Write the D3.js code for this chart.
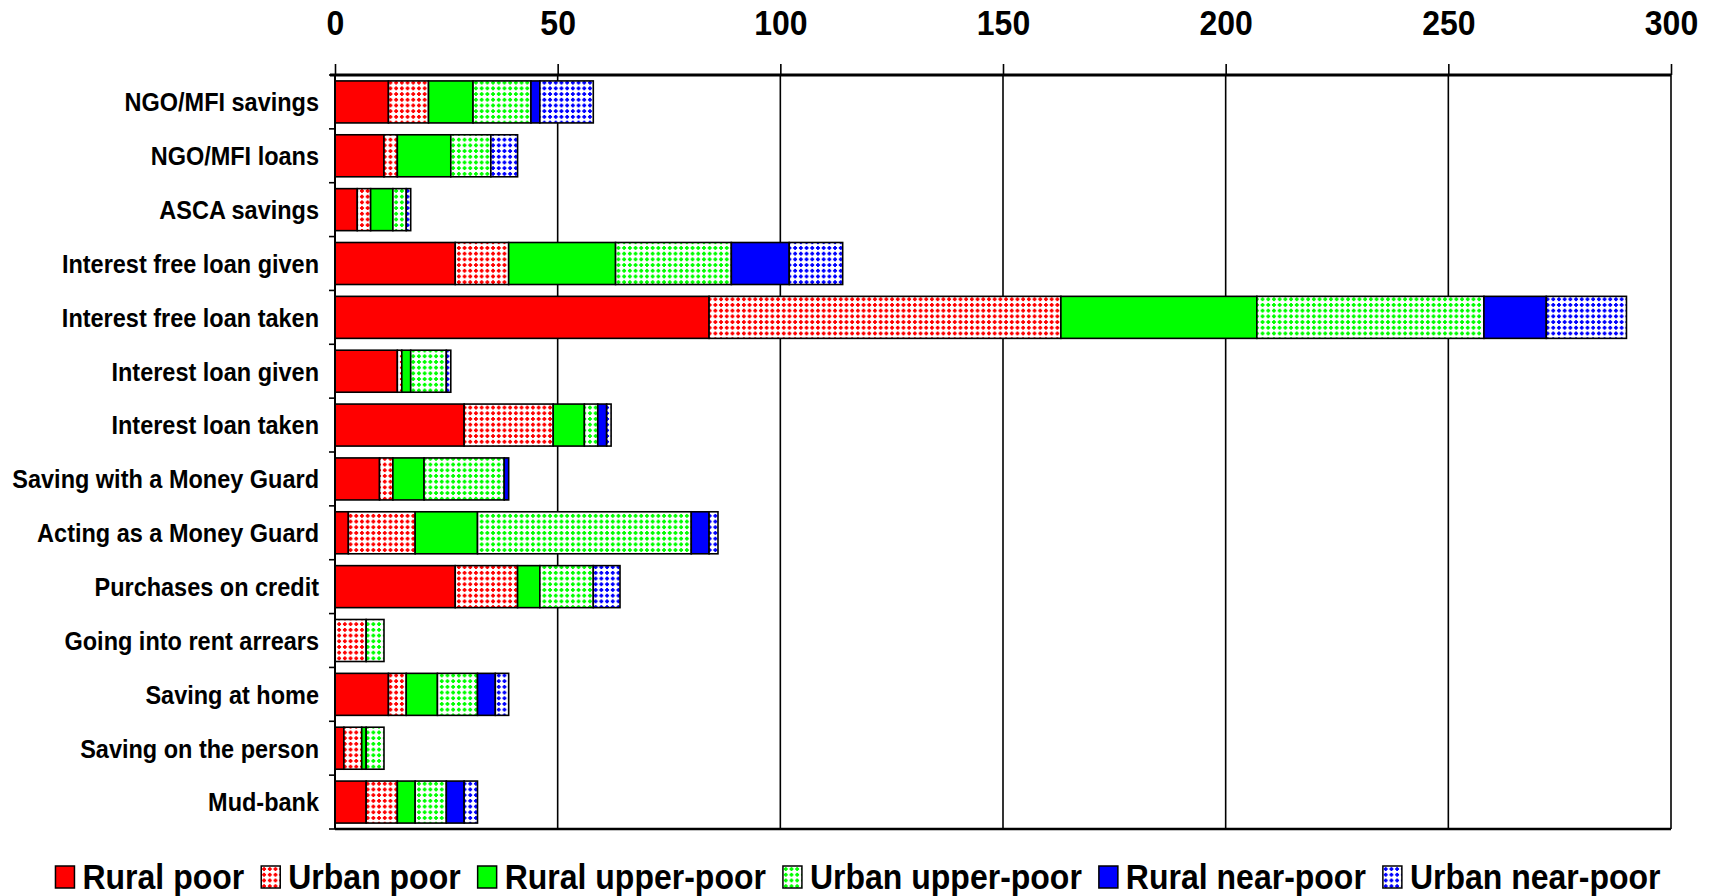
<!DOCTYPE html>
<html>
<head>
<meta charset="utf-8">
<script src="https://cdn.jsdelivr.net/npm/d3@7"></script>
<style>
  body { margin: 0; background: #fff; }
  text { font-family: "Liberation Sans", Arial, sans-serif; font-weight: bold; fill: #000; }
</style>
</head>
<body>
<script>
// categories top to bottom
var categories = ["NGO/MFI savings", "NGO/MFI loans", "ASCA savings", "Interest free loan given",
  "Interest free loan taken", "Interest loan given", "Interest loan taken", "Saving with a Money Guard",
  "Acting as a Money Guard", "Purchases on credit", "Going into rent arrears", "Saving at home",
  "Saving on the person", "Mud-bank"];

var seriesNames = ["Rural poor", "Urban poor", "Rural upper-poor", "Urban upper-poor", "Rural near-poor", "Urban near-poor"];

var ruralPoor  = [12, 11, 5, 27, 84, 14, 29, 10, 3, 27, 0, 12, 2, 7];
var urbanPoor  = [9, 3, 3, 12, 79, 1, 20, 3, 15, 14, 7, 4, 4, 7];
var ruralUpper = [10, 12, 5, 24, 44, 2, 7, 7, 14, 5, 0, 7, 1, 4];
var urbanUpper = [13, 9, 3, 26, 51, 8, 3, 18, 48, 12, 4, 9, 4, 7];
var ruralNear  = [2, 0, 0, 13, 14, 0, 2, 1, 4, 0, 0, 4, 0, 4];
var urbanNear  = [12, 6, 1, 12, 18, 1, 1, 0, 2, 6, 0, 3, 0, 3];

var xTicks = [0, 50, 100, 150, 200, 250, 300];

var seriesValues = [ruralPoor, urbanPoor, ruralUpper, urbanUpper, ruralNear, urbanNear];
var baseColors = ["#ff0000", "#ff0000", "#00ff00", "#00ff00", "#0000ff", "#0000ff"];
var dotted = [false, true, false, true, false, true];

var w = 1717, h = 896;
var svg = d3.select("body").append("svg").attr("width", w).attr("height", h);

// dotted fill patterns for the urban series (small plus-shaped dots)
var defs = svg.append("defs");
seriesNames.forEach(function(name, i) {
  if(!dotted[i]) return;
  var p = defs.append("pattern").attr("id", "pat" + i)
    .attr("patternUnits", "userSpaceOnUse").attr("width", 5.7).attr("height", 5.7);
  p.append("rect").attr("width", 5.7).attr("height", 5.7).attr("fill", "#fff");
  p.append("path").attr("d", "M1.9,0.9h1.9v1h1v1.9h-1v1h-1.9v-1h-1v-1.9h1z").attr("fill", baseColors[i]);
});
function fillOf(i) { return dotted[i] ? "url(#pat" + i + ")" : baseColors[i]; }

var x = d3.scaleLinear().domain([0, 300]).range([335, 1671]);
var y = d3.scaleBand().domain(categories).range([75, 829]).paddingInner(0.22).paddingOuter(0.11);

// table for d3.stack
var table = categories.map(function(c, j) {
  var row = { cat: c };
  seriesNames.forEach(function(s, i) { row[s] = seriesValues[i][j]; });
  return row;
});
var stacked = d3.stack().keys(seriesNames)(table);

// vertical grid lines
svg.append("g").selectAll("line").data(xTicks.slice(1)).enter().append("line")
  .attr("x1", d => x(d)).attr("x2", d => x(d))
  .attr("y1", 75).attr("y2", 829)
  .attr("stroke", "#000").attr("stroke-width", 1.6);

// bottom frame line
svg.append("line").attr("x1", 335).attr("x2", 1671).attr("y1", 829).attr("y2", 829)
  .attr("stroke", "#000").attr("stroke-width", 2.5);

// bars
stacked.forEach(function(layer, i) {
  svg.append("g").selectAll("rect").data(layer).enter().append("rect")
    .filter(d => d[1] - d[0] > 0)
    .attr("x", d => x(d[0]))
    .attr("y", d => y(d.data.cat))
    .attr("width", d => x(d[1]) - x(d[0]))
    .attr("height", y.bandwidth())
    .attr("fill", fillOf(i))
    .attr("stroke", "#000")
    .attr("stroke-width", 1.6);
});

// top axis
var xAxis = d3.axisTop(x).tickValues(xTicks).tickSize(11).tickPadding(26);
var gx = svg.append("g").attr("transform", "translate(0,75)").call(xAxis);
gx.select(".domain").attr("stroke-width", 3).attr("d", "M330,0H1671");
gx.selectAll(".tick line").attr("stroke-width", 1.6);
gx.selectAll("text").attr("font-size", 32).style("font-family", "Liberation Sans, Arial, sans-serif")
  .style("font-weight", "bold").attr("fill", "#000")
  .attr("y", 0).attr("transform", "translate(0,-40) scale(1,1.1)");

// left axis with ticks between categories
svg.append("line").attr("x1", 335).attr("x2", 335).attr("y1", 75).attr("y2", 829)
  .attr("stroke", "#000").attr("stroke-width", 2);
var bounds = d3.range(categories.length + 1).map(i => 75 + i * (754 / categories.length));
svg.append("g").selectAll("line").data(bounds).enter().append("line")
  .attr("x1", 329).attr("x2", 335).attr("y1", d => d).attr("y2", d => d)
  .attr("stroke", "#000").attr("stroke-width", 1.6);

svg.append("g").selectAll("text").data(categories).enter().append("text")
  .attr("transform", d => "translate(319," + (y(d) + y.bandwidth() / 2) + ") scale(1,1.1)")
  .attr("dy", "0.36em")
  .attr("text-anchor", "end")
  .attr("font-size", 23.5)
  .text(d => d);

// legend
var legend = svg.append("g");
var items = legend.selectAll("g").data(seriesNames).enter().append("g");
items.append("rect").attr("width", 19).attr("height", 22).attr("y", -23)
  .attr("fill", (d, i) => fillOf(i)).attr("stroke", "#000").attr("stroke-width", 1.5);
items.append("text").attr("transform", "translate(27,0) scale(1,1.12)").attr("font-size", 32).text(d => d);
var pos = 0;
items.each(function() {
  var g = d3.select(this);
  g.attr("transform", "translate(" + pos + ",0)");
  pos += 27 + g.select("text").node().getComputedTextLength() + 17;
});
pos -= 17;
legend.attr("transform", "translate(" + (858 - pos / 2) + ",889)");
</script>
</body>
</html>
